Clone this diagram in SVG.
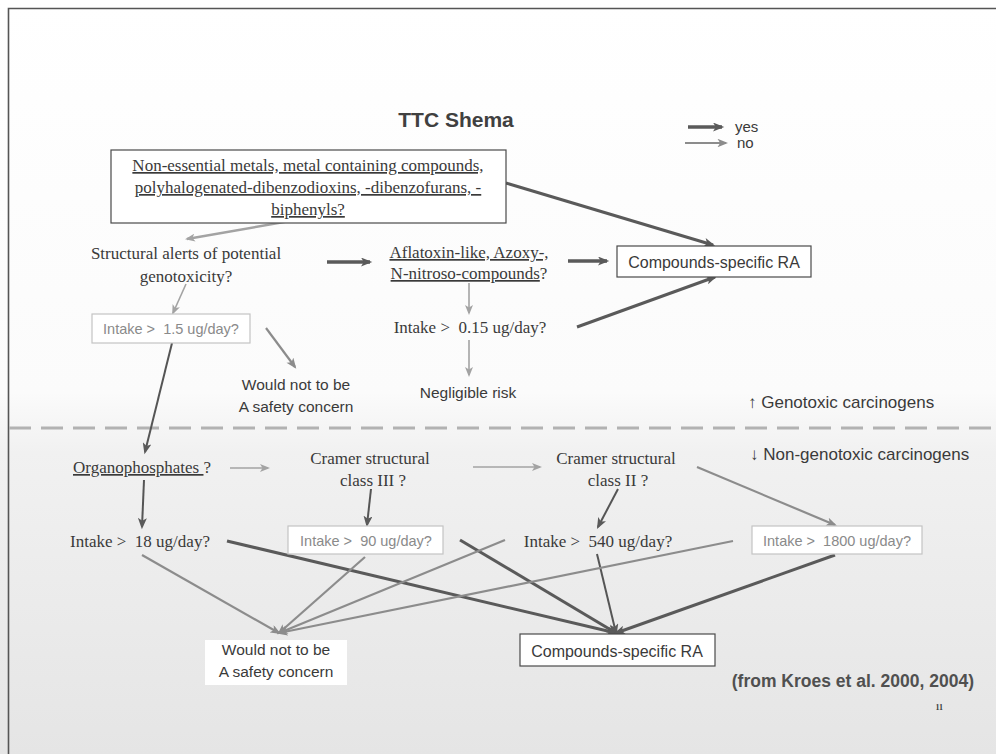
<svg xmlns="http://www.w3.org/2000/svg" width="996" height="754" viewBox="0 0 996 754">
  <defs>
    <style>
      .serif { font-family: "Liberation Serif", "Times New Roman", serif; font-size: 17px; fill: #3a3a3a; }
      .sans { font-family: "Liberation Sans", Arial, sans-serif; fill: #3a3a3a; }
      .pale { font-family: "Liberation Sans", Arial, sans-serif; font-size: 14.5px; fill: #8a8a8a; }
      .ul { text-decoration: underline; }
      .pre { white-space: pre; }
      .yes { stroke: #5a5a5a; stroke-width: 3; fill: none; marker-end: url(#headYes); }
      .yes-thin { stroke: #555; stroke-width: 2; fill: none; marker-end: url(#headYes); }
      .no { stroke: #a3a3a3; stroke-width: 1.6; fill: none; marker-end: url(#headNo); }
      .no-mid { stroke: #8c8c8c; stroke-width: 2.2; fill: none; marker-end: url(#headMid); }
      .box { fill: #fff; stroke: #4a4a4a; stroke-width: 1.2; }
      .pale-box { fill: #fff; stroke: #c4c4c4; stroke-width: 1.2; }
    </style>
    <linearGradient id="bg" x1="0" y1="0" x2="0" y2="754" gradientUnits="userSpaceOnUse">
      <stop offset="0" stop-color="#ffffff"/>
      <stop offset="0.52" stop-color="#fbfbfb"/>
      <stop offset="0.6" stop-color="#f1f1f1"/>
      <stop offset="1" stop-color="#e5e5e5"/>
    </linearGradient>
    <marker id="headYes" viewBox="0 0 10 8" refX="8" refY="4" markerWidth="12" markerHeight="9" markerUnits="userSpaceOnUse" orient="auto">
      <path d="M0,0 L10,4 L0,8 L2.5,4 z" fill="#5a5a5a"/>
    </marker>
    <marker id="headNo" viewBox="0 0 10 8" refX="8" refY="4" markerWidth="10" markerHeight="8" markerUnits="userSpaceOnUse" orient="auto">
      <path d="M0,0 L10,4 L0,8 L2.5,4 z" fill="#a3a3a3"/>
    </marker>
    <marker id="headMid" viewBox="0 0 10 8" refX="8" refY="4" markerWidth="11" markerHeight="8.5" markerUnits="userSpaceOnUse" orient="auto">
      <path d="M0,0 L10,4 L0,8 L2.5,4 z" fill="#8c8c8c"/>
    </marker>
  </defs>

  <!-- slide background and frame -->
  <rect x="0" y="0" width="996" height="754" fill="url(#bg)"/>
  <path d="M996,8.5 H8.5 V754" fill="none" stroke="#555" stroke-width="1.6"/>

  <!-- genotoxic / non-genotoxic divider -->
  <line x1="9" y1="428" x2="996" y2="428" stroke="#b2b2b2" stroke-width="3" stroke-dasharray="22 10"/>

  <!-- title -->
  <text x="456" y="127" text-anchor="middle" class="sans" style="font-size:21px;font-weight:bold;fill:#404040">TTC Shema</text>

  <!-- legend -->
  <g id="legend">
    <line x1="688" y1="127" x2="722" y2="127" class="yes" style="stroke-width:3.5"/>
    <line x1="685" y1="143" x2="726" y2="143" class="no-mid"/>
    <text x="735" y="132" class="sans" style="font-size:15px">yes</text>
    <text x="737" y="148" class="sans" style="font-size:15px">no</text>
  </g>

  <!-- connectors -->
  <g id="connectors">
    <line x1="307" y1="218" x2="187" y2="239" class="no" style="stroke-width:2.4"/>
    <line x1="506" y1="183" x2="713" y2="245" class="yes"/>
    <line x1="327" y1="262" x2="370" y2="262" class="yes" style="stroke-width:3.5"/>
    <line x1="568" y1="261" x2="607" y2="261" class="yes" style="stroke-width:3.5"/>
    <line x1="577" y1="327" x2="715" y2="277" class="yes"/>
    <line x1="469" y1="283" x2="469" y2="313" class="no"/>
    <line x1="469" y1="340" x2="469" y2="375" class="no"/>
    <line x1="186" y1="284" x2="173" y2="313" class="no"/>
    <line x1="266" y1="328" x2="295" y2="367" class="no-mid"/>
    <line x1="172" y1="343" x2="145" y2="452" class="yes-thin"/>
    <line x1="230" y1="468" x2="268" y2="468" class="no"/>
    <line x1="144" y1="480" x2="142" y2="527" class="yes-thin"/>
    <line x1="371" y1="489" x2="367" y2="525" class="yes-thin"/>
    <line x1="473" y1="467" x2="540" y2="467" class="no"/>
    <line x1="618" y1="489" x2="598" y2="527" class="yes-thin"/>
    <line x1="697" y1="467" x2="835" y2="525" class="no-mid"/>
    <line x1="142" y1="555" x2="279" y2="633" class="no-mid"/>
    <line x1="227" y1="541" x2="616" y2="633" class="yes"/>
    <line x1="365" y1="557" x2="279" y2="633" class="no-mid"/>
    <line x1="460" y1="540" x2="616" y2="633" class="yes"/>
    <line x1="505" y1="540" x2="279" y2="633" class="no-mid"/>
    <line x1="597" y1="554" x2="616" y2="633" class="yes-thin"/>
    <line x1="733" y1="541" x2="279" y2="633" class="no-mid"/>
    <line x1="835" y1="555" x2="616" y2="633" class="yes"/>
  </g>

  <!-- genotoxic part -->
  <g id="n-metals">
    <rect x="111" y="150" width="395" height="73" class="box"/>
    <text x="308" y="171" text-anchor="middle" class="serif ul">Non-essential metals, metal containing compounds,</text>
    <text x="308" y="193" text-anchor="middle" class="serif ul">polyhalogenated-dibenzodioxins, -dibenzofurans, -</text>
    <text x="308" y="215" text-anchor="middle" class="serif ul">biphenyls?</text>
  </g>

  <g id="n-alerts">
    <text x="186" y="259" text-anchor="middle" class="serif">Structural alerts of potential</text>
    <text x="186" y="282" text-anchor="middle" class="serif">genotoxicity?</text>
  </g>

  <g id="n-aflatoxin">
    <text x="469" y="258" text-anchor="middle" class="serif ul">Aflatoxin-like, Azoxy-,</text>
    <text x="469" y="279" text-anchor="middle" class="serif"><tspan class="ul">N-nitroso-compounds</tspan>?</text>
  </g>

  <g id="n-ra-top">
    <rect x="617" y="246" width="194" height="31" class="box"/>
    <text x="714" y="268" text-anchor="middle" class="sans" style="font-size:16px">Compounds-specific RA</text>
  </g>

  <g id="n-intake-015">
    <text x="470" y="333" text-anchor="middle" class="serif pre">Intake &gt;  0.15 ug/day?</text>
  </g>

  <g id="n-negligible">
    <text x="468" y="398" text-anchor="middle" class="sans" style="font-size:15.5px">Negligible risk</text>
  </g>

  <g id="n-intake-15">
    <rect x="92" y="314" width="158" height="29" class="pale-box"/>
    <text x="171" y="334" text-anchor="middle" class="pale pre">Intake &gt;  1.5 ug/day?</text>
  </g>

  <g id="n-safe-top">
    <text x="296" y="390" text-anchor="middle" class="sans" style="font-size:15.5px">Would not to be</text>
    <text x="296" y="412" text-anchor="middle" class="sans" style="font-size:15.5px">A safety concern</text>
  </g>

  <g id="n-zone-labels">
    <text x="748" y="408" class="sans" style="font-size:17px">↑ Genotoxic carcinogens</text>
    <text x="750" y="460" class="sans" style="font-size:17px">↓ Non-genotoxic carcinogens</text>
  </g>

  <!-- non-genotoxic part -->
  <g id="n-organophosphates">
    <text x="73" y="473" class="serif pre"><tspan class="ul">Organophosphates </tspan>?</text>
  </g>

  <g id="n-cramer-3">
    <text x="370" y="464" text-anchor="middle" class="serif">Cramer structural</text>
    <text x="373" y="486" text-anchor="middle" class="serif">class III ?</text>
  </g>

  <g id="n-cramer-2">
    <text x="616" y="464" text-anchor="middle" class="serif">Cramer structural</text>
    <text x="618" y="486" text-anchor="middle" class="serif">class II ?</text>
  </g>

  <g id="n-intake-18">
    <text x="140" y="547" text-anchor="middle" class="serif pre">Intake &gt;  18 ug/day?</text>
  </g>

  <g id="n-intake-90">
    <rect x="288" y="526" width="155" height="28" class="pale-box"/>
    <text x="366" y="546" text-anchor="middle" class="pale pre">Intake &gt;  90 ug/day?</text>
  </g>

  <g id="n-intake-540">
    <text x="598" y="547" text-anchor="middle" class="serif pre">Intake &gt;  540 ug/day?</text>
  </g>

  <g id="n-intake-1800">
    <rect x="752" y="526" width="170" height="28" class="pale-box"/>
    <text x="837" y="546" text-anchor="middle" class="pale pre">Intake &gt;  1800 ug/day?</text>
  </g>

  <g id="n-safe-bottom">
    <rect x="205" y="640" width="142" height="45" fill="#fff"/>
    <text x="276" y="655" text-anchor="middle" class="sans" style="font-size:15.5px">Would not to be</text>
    <text x="276" y="677" text-anchor="middle" class="sans" style="font-size:15.5px">A safety concern</text>
  </g>

  <g id="n-ra-bottom">
    <rect x="520" y="634" width="195" height="32" class="box"/>
    <text x="617" y="657" text-anchor="middle" class="sans" style="font-size:16px">Compounds-specific RA</text>
  </g>

  <!-- source and page number -->
  <text x="974" y="687" text-anchor="end" class="sans" style="font-size:17.5px;font-weight:bold;fill:#505050">(from Kroes et al. 2000, 2004)</text>
  <text x="943" y="710" text-anchor="end" class="serif" style="font-size:8px;font-weight:bold">11</text>
</svg>
